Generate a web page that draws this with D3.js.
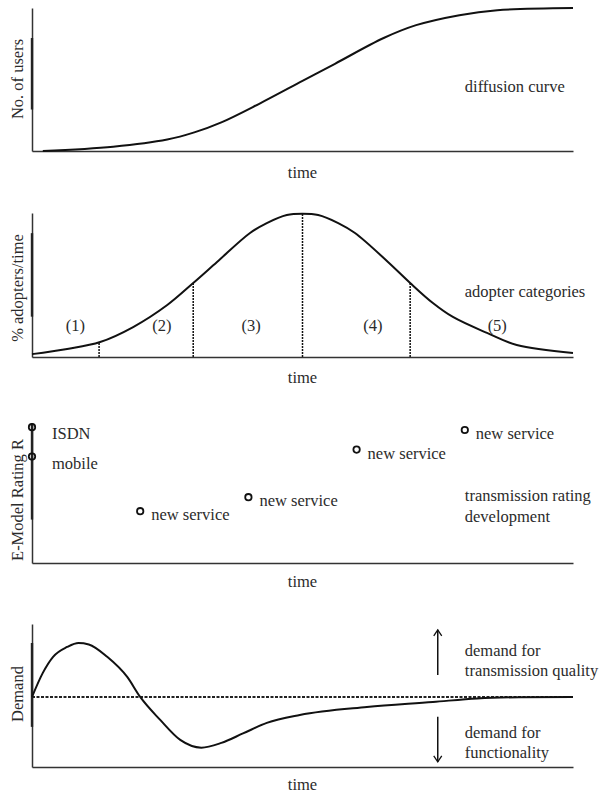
<!DOCTYPE html>
<html>
<head>
<meta charset="utf-8">
<script src="https://cdn.jsdelivr.net/npm/d3@7"></script>
<style>
  body { margin: 0; background: #fff; }
  text { font-family: "Liberation Serif", "Times New Roman", serif; font-size: 16.5px; fill: #2b2b2b; }
</style>
</head>
<body>
<div id="chart"></div>
<script>
// Diffusion curve (cumulative users over time)
const diffusionTime = [2, 15, 25, 30, 35, 42, 50, 56, 65, 71, 79, 86, 100];
const diffusionUsers = [0, 3, 8, 13, 20, 33, 49, 61, 79, 88, 95, 98.5, 100];

// Adopter categories (bell curve) with the category dividers
const adopterTime = [0, 6.5, 12.6, 18.7, 25, 29.8, 34.2, 40.3, 43.4, 47.1, 50, 52.9, 56.6, 59.7, 65.8, 69.9, 74.1, 77.8, 84.1, 89.6, 100];
const adopterShare = [2, 5.6, 10.4, 20.8, 36.1, 51.4, 66, 86.1, 93, 98.6, 99.5, 98.6, 93, 86.1, 66, 51.4, 37.5, 27.8, 16.7, 8.3, 2.8];
const dividerTime = [12.4, 29.8, 50, 69.9];
const dividerShare = [10.4, 51.4, 99.5, 51.4];
const categoryLabels = ['(1)', '(2)', '(3)', '(4)', '(5)'];
const categoryTime = [8, 24, 40.5, 63, 86];

// Transmission rating development (E-Model R)
const ratingNames = ['ISDN', 'mobile', 'new service', 'new service', 'new service', 'new service'];
const ratingTime = [0, 0, 20, 40, 60, 80];
const ratingValue = [97, 76, 37, 47, 81, 95];

// Demand oscillation (+ transmission quality, - functionality)
const demandTime = [0, 2, 3.9, 6.5, 8.6, 10.5, 13.9, 17.6, 20, 23.7, 27.4, 31.3, 35, 39, 43.4, 49.5, 61.9, 74.1, 82.3, 90, 100];
const demandValue = [0, 33, 55, 68.5, 74, 72, 55, 27.4, 0, -31.5, -58.9, -69.5, -63, -50, -35.6, -24.7, -13.7, -6.9, -2, -0.4, 0];
const arrowUp = [30, 92];
const arrowDown = [-27, -89];
const arrowTime = 75;

// Heavier stretch on each y axis (as printed in the original figure)
const axisHeavyFrom = [79, 86, 100, 74];
const axisHeavyTo = [29, 28, 31, -41];

const width = 600;
const height = 796;
const left = 32;
const right = 573;
const textX = 80; // right-hand annotations start at this time value

const svg = d3.select('#chart').append('svg')
  .attr('width', width)
  .attr('height', height)
  .attr('font-family', '"Liberation Serif", serif');

// One shared time axis for all four panels.
const x = d3.scaleLinear().domain([0, 100]).range([left, right]);

// Panel frames: top/bottom in px, label centre for rotated y-title.
const panels = [
  { top: 8, bottom: 151, domain: [0, 100], yTitle: 'No. of users', titleY: 79, timeGap: 27 },
  { top: 213, bottom: 357, domain: [0, 100], yTitle: '% adopters/time', titleY: 288, timeGap: 26 },
  { top: 423, bottom: 563, domain: [0, 100], yTitle: 'E-Model Rating R', titleY: 500, timeGap: 24 },
  { top: 624, bottom: 767, domain: [-96, 100], yTitle: 'Demand', titleY: 694, timeGap: 23 },
];

const ys = panels.map((p) => d3.scaleLinear().domain(p.domain).range([p.bottom, p.top]));

// Draw the bare axes and labels for each panel.
panels.forEach((p, i) => {
  const g = svg.append('g');
  g.append('g')
    .attr('transform', `translate(0,${p.bottom})`)
    .call(d3.axisBottom(x).tickValues([]).tickSizeOuter(0));
  g.append('g')
    .attr('transform', `translate(${left},0)`)
    .call(d3.axisLeft(ys[i]).tickValues([]).tickSizeOuter(0));
  g.selectAll('.domain')
    .attr('stroke', '#333')
    .attr('stroke-width', 1.5);

  g.append('line')
    .attr('x1', left)
    .attr('x2', left)
    .attr('y1', ys[i](axisHeavyFrom[i]))
    .attr('y2', ys[i](axisHeavyTo[i]))
    .attr('stroke', '#222')
    .attr('stroke-width', 2.4);

  g.append('text')
    .attr('x', (left + right) / 2)
    .attr('y', p.bottom + p.timeGap)
    .attr('text-anchor', 'middle')
    .text('time');

  g.append('text')
    .attr('transform', `translate(23,${p.titleY}) rotate(-90)`)
    .attr('text-anchor', 'middle')
    .text(p.yTitle);
});

const curve = (fx, fy, c = d3.curveCatmullRom.alpha(0.5)) => d3.line()
  .x(fx)
  .y(fy)
  .curve(c);

// Panel 1: diffusion curve
svg.append('path')
  .attr('d', curve((d) => x(d), (d, i) => ys[0](diffusionUsers[i]))(diffusionTime))
  .attr('fill', 'none')
  .attr('stroke', '#111')
  .attr('stroke-width', 2);
svg.append('text')
  .attr('x', x(textX))
  .attr('y', 92)
  .text('diffusion curve');

// Panel 2: adopter categories
svg.selectAll('.divider')
  .data(dividerTime)
  .join('line')
  .attr('class', 'divider')
  .attr('x1', (d) => x(d))
  .attr('x2', (d) => x(d))
  .attr('y1', ys[1](0))
  .attr('y2', (d, i) => ys[1](dividerShare[i]))
  .attr('stroke', '#111')
  .attr('stroke-width', 1.5)
  .attr('stroke-dasharray', '2,1');
svg.append('path')
  .attr('d', curve((d) => x(d), (d, i) => ys[1](adopterShare[i]))(adopterTime))
  .attr('fill', 'none')
  .attr('stroke', '#111')
  .attr('stroke-width', 2);
svg.selectAll('.category')
  .data(categoryLabels)
  .join('text')
  .attr('class', 'category')
  .attr('x', (d, i) => x(categoryTime[i]))
  .attr('y', ys[1](18))
  .attr('text-anchor', 'middle')
  .text((d) => d);
svg.append('text')
  .attr('x', x(textX))
  .attr('y', 297)
  .text('adopter categories');

// Panel 3: transmission rating points
svg.selectAll('.rating')
  .data(ratingTime)
  .join('circle')
  .attr('class', 'rating')
  .attr('cx', (d) => x(d))
  .attr('cy', (d, i) => ys[2](ratingValue[i]))
  .attr('r', 3.2)
  .attr('fill', 'none')
  .attr('stroke', '#111')
  .attr('stroke-width', 1.8);
svg.selectAll('.ratingLabel')
  .data(ratingNames)
  .join('text')
  .attr('class', 'ratingLabel')
  .attr('x', (d, i) => x(ratingTime[i]) + (i < 2 ? 20 : 11))
  .attr('y', (d, i) => ys[2](ratingValue[i]) + (i < 2 ? 12 : 9))
  .text((d) => d);
svg.append('text')
  .attr('x', x(textX))
  .attr('y', 501)
  .text('transmission rating');
svg.append('text')
  .attr('x', x(textX))
  .attr('y', 522)
  .text('development');

// Panel 4: demand
svg.append('line')
  .attr('x1', x(0))
  .attr('x2', x(100))
  .attr('y1', ys[3](0))
  .attr('y2', ys[3](0))
  .attr('stroke', '#222')
  .attr('stroke-width', 2)
  .attr('stroke-dasharray', '3,1.5');
svg.append('path')
  .attr('d', curve((d) => x(d), (d, i) => ys[3](demandValue[i]), d3.curveMonotoneX)(demandTime))
  .attr('fill', 'none')
  .attr('stroke', '#111')
  .attr('stroke-width', 2);

svg.append('defs').append('marker')
  .attr('id', 'head')
  .attr('viewBox', '-8 -6 10 12')
  .attr('refX', 0)
  .attr('refY', 0)
  .attr('markerWidth', 10)
  .attr('markerHeight', 12)
  .attr('markerUnits', 'userSpaceOnUse')
  .attr('orient', 'auto')
  .append('path')
  .attr('d', 'M-6,-4L0,0L-6,4')
  .attr('fill', 'none')
  .attr('stroke', '#111')
  .attr('stroke-width', 1.3);

[arrowUp, arrowDown].forEach((a) => {
  svg.append('line')
    .attr('x1', x(arrowTime))
    .attr('x2', x(arrowTime))
    .attr('y1', ys[3](a[0]))
    .attr('y2', ys[3](a[1]))
    .attr('stroke', '#111')
    .attr('stroke-width', 1.5)
    .attr('marker-end', 'url(#head)');
});

const demandNotes = [
  ['demand for', 656],
  ['transmission quality', 676],
  ['demand for', 738],
  ['functionality', 758],
];
svg.selectAll('.note')
  .data(demandNotes)
  .join('text')
  .attr('class', 'note')
  .attr('x', x(textX))
  .attr('y', (d) => d[1])
  .text((d) => d[0]);
</script>
</body>
</html>
